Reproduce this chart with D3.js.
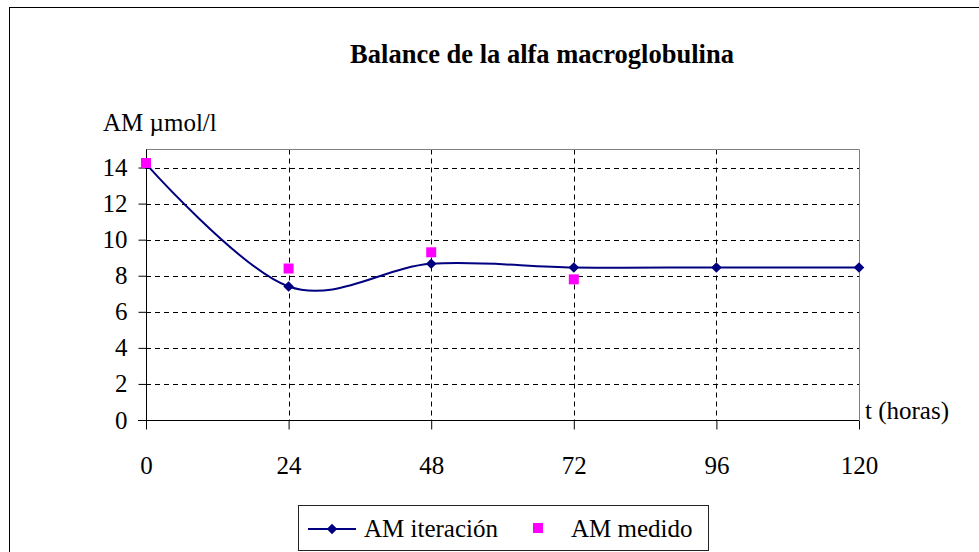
<!DOCTYPE html>
<html>
<head>
<meta charset="utf-8">
<script src="https://cdn.jsdelivr.net/npm/d3@7"></script>
</head>
<body style="margin:0">
<svg id="chart" width="979" height="552"></svg>
<script>
// ---- data ----
const hours = [0, 24, 48, 72, 96, 120];
const iteracion = [14.2, 7.4, 8.66, 8.46, 8.46, 8.46];
const medidoHours = [0, 24, 48, 72];
const medido = [14.25, 8.4, 9.3, 7.8];
const xTicks = [0, 24, 48, 72, 96, 120];
const yTicks = [0, 2, 4, 6, 8, 10, 12, 14];
const titleText = "Balance de la alfa macroglobulina";
const yTitle = "AM µmol/l";
const xTitle = "t (horas)";
const seriesNames = ["AM iteración", "AM medido"];

const svg = d3.select("#chart");
const navy = "#000080", pink = "#FF00FF";
const pLeft = 146, pRight = 859, pTop = 149.5, pBottom = 420;
const xs = d3.scaleLinear().domain([0, 120]).range([pLeft, pRight]);
const ys = d3.scaleLinear().domain([0, 15]).range([pBottom, pTop]);

function txt(sel, size) {
  return sel.attr("font-size", size).style("font-family", "Tinos").attr("fill", "#000");
}

// outer chart frame
svg.append("rect").attr("x", 9.5).attr("y", 7.5).attr("width", 1000).attr("height", 600)
  .attr("fill", "none").attr("stroke", "#000").attr("stroke-width", 1);

// title
txt(svg.append("text").attr("x", 542).attr("y", 63).attr("text-anchor", "middle"), 26.5)
  .attr("font-weight", "bold").text(titleText);

// horizontal gridlines
svg.append("g").selectAll("line").data(yTicks.filter(d => d > 0)).join("line")
  .attr("x1", pLeft).attr("x2", pRight)
  .attr("y1", d => Math.round(ys(d)) + 0.5).attr("y2", d => Math.round(ys(d)) + 0.5)
  .attr("stroke", "#000").attr("stroke-dasharray", "5,4");

// vertical gridlines
svg.append("g").selectAll("line").data(xTicks.filter(d => d > 0 && d < 120)).join("line")
  .attr("x1", d => Math.round(xs(d)) + 0.5).attr("x2", d => Math.round(xs(d)) + 0.5)
  .attr("y1", pTop).attr("y2", pBottom)
  .attr("stroke", "#000").attr("stroke-dasharray", "5,4");

// plot border top/right
svg.append("path")
  .attr("d", `M${pLeft},${pTop}H${pRight + 0.5}V${pBottom}`)
  .attr("fill", "none").attr("stroke", "#808080").attr("stroke-width", 1);

// y axis
const gy = svg.append("g").attr("transform", `translate(${pLeft + 0.5},0)`)
  .call(d3.axisLeft(ys).tickValues(yTicks).tickSize(8).tickPadding(11).tickFormat(d3.format("d")));
gy.attr("font-family", null).attr("font-size", null);
gy.select(".domain").attr("stroke", "#000").attr("d", `M0,${pTop}V${pBottom + 9}`);
gy.selectAll(".tick line").attr("stroke", "#000");
txt(gy.selectAll(".tick text"), 25);

// x axis
const gx = svg.append("g").attr("transform", `translate(0,${pBottom + 0.5})`)
  .call(d3.axisBottom(xs).tickValues(xTicks).tickSize(9).tickPadding(27).tickFormat(d3.format("d")));
gx.attr("font-family", null).attr("font-size", null);
gx.select(".domain").attr("stroke", "#000").attr("d", `M${pLeft - 8},0H${pRight}`);
gx.selectAll(".tick line").attr("stroke", "#000");
txt(gx.selectAll(".tick text"), 25);

// axis titles
txt(svg.append("text").attr("x", 103).attr("y", 131), 25).text(yTitle);
txt(svg.append("text").attr("x", 865).attr("y", 419), 25).text(xTitle);

// iteration line
const iterData = hours.map((h, i) => ({ h, v: iteracion[i] }));
const line = d3.line().x(d => xs(d.h)).y(d => ys(d.v)).curve(d3.curveCardinal.tension(0));
svg.append("path").datum(iterData).attr("d", line)
  .attr("fill", "none").attr("stroke", navy).attr("stroke-width", 2);

const diamond = d3.symbol().type(d3.symbolSquare).size(56);
svg.append("g").selectAll("path").data(iterData).join("path")
  .attr("d", diamond)
  .attr("transform", d => `translate(${xs(d.h)},${ys(d.v)}) rotate(45)`)
  .attr("fill", navy);

// measured points
const medData = medidoHours.map((h, i) => ({ h, v: medido[i] }));
svg.append("g").selectAll("rect").data(medData).join("rect")
  .attr("x", d => xs(d.h) - 5).attr("y", d => ys(d.v) - 5)
  .attr("width", 10).attr("height", 10).attr("fill", pink);

// legend
const lg = svg.append("g");
lg.append("rect").attr("x", 298.5).attr("y", 505.5).attr("width", 410).attr("height", 45)
  .attr("fill", "#fff").attr("stroke", "#222");
lg.append("line").attr("x1", 308).attr("x2", 356).attr("y1", 529).attr("y2", 529)
  .attr("stroke", navy).attr("stroke-width", 2);
lg.append("path").attr("d", diamond).attr("transform", "translate(332,529) rotate(45)").attr("fill", navy);
txt(lg.append("text").attr("x", 364).attr("y", 537), 25).text(seriesNames[0]);
lg.append("rect").attr("x", 533).attr("y", 523).attr("width", 10).attr("height", 10).attr("fill", pink);
txt(lg.append("text").attr("x", 571).attr("y", 537), 25).text(seriesNames[1]);
</script>
</body>
</html>
